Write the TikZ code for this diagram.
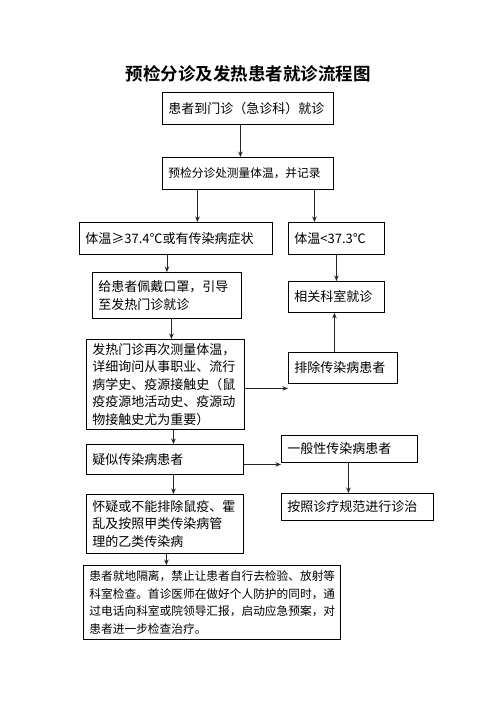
\documentclass[tikz,border=0pt]{standalone}
\usepackage{fontspec}
\setmainfont{Noto Sans CJK SC}
\newfontfamily\titlefont{Noto Sans CJK SC Bold}
\usetikzlibrary{arrows.meta}
\tikzset{
  box/.style={draw=black, line width=0.9pt, anchor=north west, align=left,
    inner xsep=6pt, inner ysep=2pt, font=\fontsize{13pt}{17.5pt}\selectfont},
  smalltxt/.style={font=\fontsize{11.7pt}{17.8pt}\selectfont},
  arr/.style={draw=black!85, line width=0.9pt, -{Stealth[length=5.5pt,width=4.5pt]}},
}
\newcommand{\mybox}[7]{% name, x, y, w, h, extra style, text
  \node[box, #6, minimum width=#4pt, minimum height=#5pt, text width=#4pt-12pt] (#1) at (#2,#3) {#7};}
\begin{document}
\begin{tikzpicture}[x=1pt,y=-1pt]
\useasboundingbox[fill=white] (0,0) rectangle (496,702);
\node[font=\titlefont\fontsize{17.5pt}{20pt}\selectfont] (title) at (248,74) {预检分诊及发热患者就诊流程图};
\mybox{b1}{162}{92}{171}{32}{}{患者到门诊（急诊科）就诊}
\mybox{b2}{162}{157}{171}{32}{smalltxt}{预检分诊处测量体温，并记录}
\mybox{b3}{79}{222}{193}{32}{}{体温≥37.4℃或有传染病症状}
\mybox{b4}{288}{222}{96}{32}{}{体温<37.3℃}
\mybox{b5}{92}{272}{149}{46}{}{给患者佩戴口罩，引导\\至发热门诊就诊}
\mybox{b6}{288}{281}{96}{31}{}{相关科室就诊}
\mybox{b7}{86}{339}{158}{90}{inner xsep=5pt}{发热门诊再次测量体温，\\详细询问从事职业、流行\\病学史、疫源接触史（鼠\\疫疫源地活动史、疫源动\\物接触史尤为重要）}
\mybox{b8}{288}{352}{109}{31}{}{排除传染病患者}
\mybox{b9}{86}{444}{157}{30}{}{疑似传染病患者}
\mybox{b10}{281}{435}{136}{27}{}{一般性传染病患者}
\mybox{b11}{281}{493}{152}{27}{}{按照诊疗规范进行诊治}
\mybox{b12}{86}{494}{157}{59}{}{怀疑或不能排除鼠疫、霍\\乱及按照甲类传染病管\\理的乙类传染病}
\mybox{b13}{83}{565}{257}{74}{smalltxt, inner xsep=5pt}{患者就地隔离，禁止让患者自行去检验、放射等\\科室检查。首诊医师在做好个人防护的同时，通\\过电话向科室或院领导汇报，启动应急预案，对\\患者进一步检查治疗。}
% connectors
\draw[arr] ([xshift=-7.5pt]b1.south) -- ([xshift=-7.5pt]b1.south |- b2.north);
\draw[arr] ([xshift=-50.5pt]b2.south) -- ([xshift=-50.5pt]b2.south |- b3.north);
\draw[arr] ([xshift=66.5pt]b2.south) -- ([xshift=66.5pt]b2.south |- b4.north);
\draw[arr] (b3.south -| b5.north) -- (b5.north);
\draw[arr] (b4.south) -- (b6.north);
\draw[arr] ([xshift=4.5pt]b5.south) -- ([xshift=4.5pt]b5.south |- b7.north);
\draw[arr] ([yshift=-4pt]b7.east) -- ([yshift=-4pt]b7.east -| b8.west);
\draw[arr] ([xshift=-8.5pt]b8.north) -- ([xshift=-8.5pt]b8.north |- b6.south);
\draw[arr] ([xshift=8pt]b7.south) -- ([xshift=8pt]b7.south |- b9.north);
\draw[arr] ([yshift=-5pt]b9.east) -- ([yshift=-5pt]b9.east -| b10.west);
\draw[arr] ([xshift=-1pt]b10.south) -- ([xshift=-1pt]b10.south |- b11.north);
\draw[arr] ([xshift=8.5pt]b9.south) -- ([xshift=8.5pt]b9.south |- b12.north);
\draw[arr] ([xshift=1.5pt]b12.south) -- ([xshift=1.5pt]b12.south |- b13.north);
\end{tikzpicture}
\end{document}
